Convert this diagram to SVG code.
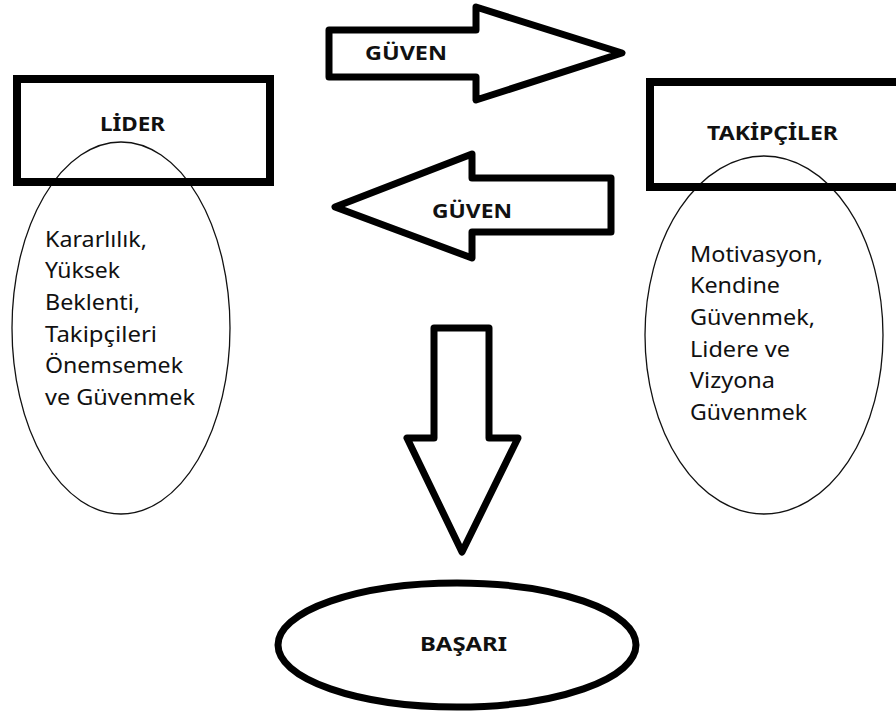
<svg xmlns="http://www.w3.org/2000/svg" width="896" height="715" viewBox="0 0 896 715">
  <style>
    .box { fill: none; stroke: #000; stroke-width: 8; }
    .thin { fill: none; stroke: #111; stroke-width: 1.3; }
    .block { fill: #fff; stroke: #000; stroke-width: 7; stroke-linejoin: round; }
    .title { font-family: "Noto Sans", "Open Sans", sans-serif; font-weight: bold; font-size: 20px; fill: #111; }
    .body { font-family: "Noto Sans", "Open Sans", sans-serif; font-size: 21px; fill: #111; }
  </style>
  <rect width="896" height="715" fill="#fff"/>

  <g id="connectors">
    <!-- trust: leader to followers -->
    <path class="block" d="M329,30 H476 V7 L622,53 L476,100 V77 H329 Z"/>
    <!-- trust: followers to leader -->
    <path class="block" d="M611,178 H472 V154 L335,207 L472,258 V232 H611 Z"/>
    <!-- both lead to success -->
    <path class="block" d="M434,328 H489 V438 H518 L462,552 L407,438 H434 Z"/>
  </g>
  <g id="connector-labels">
    <text class="title" x="365" y="60" textLength="82" lengthAdjust="spacingAndGlyphs">GÜVEN</text>
    <text class="title" x="432" y="218" textLength="80" lengthAdjust="spacingAndGlyphs">GÜVEN</text>
  </g>

  <g id="lider">
    <ellipse class="thin" cx="121" cy="328" rx="109" ry="186"/>
    <rect class="box" x="17" y="79" width="253" height="103"/>
    <text class="title" x="100" y="131" textLength="65" lengthAdjust="spacingAndGlyphs">LİDER</text>
    <text class="body" x="45" y="247" textLength="102" lengthAdjust="spacingAndGlyphs">Kararlılık,</text>
    <text class="body" x="45" y="278" textLength="75" lengthAdjust="spacingAndGlyphs">Yüksek</text>
    <text class="body" x="45" y="310" textLength="95" lengthAdjust="spacingAndGlyphs">Beklenti,</text>
    <text class="body" x="45" y="342" textLength="112" lengthAdjust="spacingAndGlyphs">Takipçileri</text>
    <text class="body" x="45" y="373" textLength="138" lengthAdjust="spacingAndGlyphs">Önemsemek</text>
    <text class="body" x="45" y="405" textLength="150" lengthAdjust="spacingAndGlyphs">ve Güvenmek</text>
  </g>

  <g id="takipciler">
    <ellipse class="thin" cx="764" cy="335" rx="119" ry="179"/>
    <rect class="box" x="650" y="82" width="260" height="105"/>
    <text class="title" x="707" y="140" textLength="131" lengthAdjust="spacingAndGlyphs">TAKİPÇİLER</text>
    <text class="body" x="690" y="262" textLength="133" lengthAdjust="spacingAndGlyphs">Motivasyon,</text>
    <text class="body" x="690" y="293" textLength="90" lengthAdjust="spacingAndGlyphs">Kendine</text>
    <text class="body" x="690" y="325" textLength="125" lengthAdjust="spacingAndGlyphs">Güvenmek,</text>
    <text class="body" x="690" y="357" textLength="100" lengthAdjust="spacingAndGlyphs">Lidere ve</text>
    <text class="body" x="690" y="388" textLength="85" lengthAdjust="spacingAndGlyphs">Vizyona</text>
    <text class="body" x="690" y="420" textLength="117" lengthAdjust="spacingAndGlyphs">Güvenmek</text>
  </g>

  <g id="basari">
    <ellipse cx="457" cy="645" rx="179" ry="62" fill="#fff" stroke="#000" stroke-width="7"/>
    <text class="title" x="420" y="651" textLength="87" lengthAdjust="spacingAndGlyphs">BAŞARI</text>
  </g>
</svg>
